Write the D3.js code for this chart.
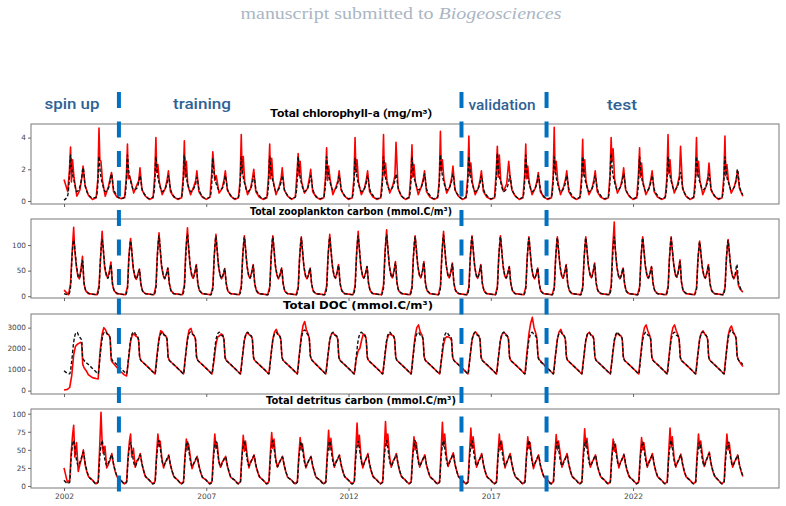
<!DOCTYPE html>
<html>
<head>
<meta charset="utf-8">
<script src="https://cdn.jsdelivr.net/npm/d3@7"></script>
<style>
  body { margin: 0; background: #fff; }
  svg { display: block; }
</style>
</head>
<body>
<svg id="chart" width="786" height="506"></svg>
<script>
// years covered by the run (last one stops in November)
const years = [2002, 2003, 2004, 2005, 2006, 2007, 2008, 2009, 2010, 2011, 2012, 2013,
  2014, 2015, 2016, 2017, 2018, 2019, 2020, 2021, 2022, 2023, 2024, 2025];

// boundaries between spin up / training / validation / test (decimal years)
const periodBreaks = [2003.93, 2015.97, 2018.96];
const periodLabels = ['spin up', 'training', 'validation', 'test'];
const xTicks = [2002, 2007, 2012, 2017, 2022];

// ---- chlorophyll-a, samples at these fractions of each year ----
const chlFrac = [0.00, 0.13, 0.19, 0.23, 0.26, 0.30, 0.35, 0.45, 0.56, 0.63, 0.67, 0.74, 0.86];
const chlModel = [
  [0.05, 0.35, 1.5, 2.9, 2.2, 1.7, 1.3, 0.6, 0.9, 1.6, 2.1, 1.0, 0.4],
  [0.2, 0.25, 1.1, 2.8, 2.1, 1.5, 1.1, 0.6, 0.8, 1.3, 1.7, 0.8, 0.35],
  [0.15, 0.25, 1.2, 2.9, 2.2, 1.6, 1.2, 0.7, 0.8, 1.2, 1.6, 0.8, 0.35],
  [0.15, 0.25, 1.1, 2.8, 2.1, 1.5, 1.1, 0.6, 0.8, 1.2, 1.6, 0.8, 0.3],
  [0.15, 0.25, 1.2, 2.9, 2.2, 1.5, 1.1, 0.6, 0.8, 1.1, 1.5, 0.8, 0.3],
  [0.15, 0.25, 1.0, 2.7, 2.0, 1.5, 1.1, 0.7, 0.8, 1.2, 1.6, 0.8, 0.35],
  [0.15, 0.25, 1.1, 2.8, 2.1, 1.5, 1.1, 0.6, 0.8, 1.2, 1.6, 0.8, 0.35],
  [0.15, 0.25, 1.1, 2.8, 2.2, 1.6, 1.2, 0.6, 0.8, 1.2, 1.6, 0.8, 0.35],
  [0.15, 0.25, 1.1, 2.8, 2.1, 1.5, 1.1, 0.6, 0.8, 1.2, 1.6, 0.8, 0.3],
  [0.15, 0.25, 1.1, 2.8, 2.1, 1.6, 1.2, 0.7, 0.8, 1.2, 1.6, 0.8, 0.35],
  [0.15, 0.25, 1.0, 2.7, 2.0, 1.5, 1.1, 0.6, 0.8, 1.2, 1.6, 0.8, 0.35],
  [0.15, 0.25, 1.1, 2.8, 2.1, 1.5, 1.1, 0.7, 0.9, 1.3, 1.7, 0.9, 0.35],
  [0.15, 0.25, 1.1, 2.8, 2.1, 1.5, 1.2, 0.7, 0.9, 1.3, 1.7, 0.8, 0.35],
  [0.15, 0.25, 1.2, 2.9, 2.2, 1.6, 1.2, 0.7, 0.9, 1.3, 1.7, 0.8, 0.35],
  [0.15, 0.25, 1.1, 2.8, 2.1, 1.5, 1.1, 0.6, 0.8, 1.2, 1.6, 0.8, 0.35],
  [0.15, 0.25, 1.3, 3.0, 2.2, 1.6, 1.2, 0.6, 0.8, 1.2, 1.6, 0.8, 0.35],
  [0.15, 0.25, 1.2, 2.9, 2.1, 1.5, 1.1, 0.6, 0.8, 1.2, 1.6, 0.8, 0.3],
  [0.15, 0.25, 1.1, 2.8, 2.1, 1.5, 1.1, 0.6, 0.8, 1.2, 1.6, 0.8, 0.35],
  [0.15, 0.25, 1.1, 2.8, 2.1, 1.5, 1.1, 0.6, 0.8, 1.2, 1.6, 0.8, 0.35],
  [0.15, 0.25, 1.3, 3.0, 2.2, 1.6, 1.2, 0.7, 0.9, 1.3, 1.7, 0.8, 0.35],
  [0.15, 0.25, 1.1, 2.8, 2.1, 1.5, 1.1, 0.6, 0.8, 1.2, 1.6, 0.8, 0.35],
  [0.15, 0.25, 1.1, 2.8, 2.1, 1.6, 1.2, 0.7, 0.9, 1.4, 1.8, 0.9, 0.35],
  [0.15, 0.25, 1.1, 2.8, 2.1, 1.5, 1.2, 0.7, 0.9, 1.3, 1.7, 0.8, 0.35],
  [0.15, 0.25, 1.1, 2.8, 2.1, 1.5, 1.2, 0.7, 0.9, 1.4, 2.0, 1.0, 0.4]
];
const chlObs = [
  [1.35, 0.6, 1.9, 3.4, 1.2, 2.6, 1.5, 0.3, 0.7, 1.5, 2.2, 1.0, 0.35],
  [0.1, 0.2, 1.4, 4.6, 2.6, 2.5, 1.3, 0.3, 0.9, 1.5, 1.8, 0.6, 0.25],
  [0.15, 0.2, 1.5, 3.6, 1.4, 1.6, 1.3, 0.5, 1.0, 1.3, 2.1, 0.7, 0.3],
  [0.1, 0.2, 1.6, 4.0, 1.8, 2.3, 1.2, 0.4, 0.8, 1.4, 1.9, 0.6, 0.25],
  [0.1, 0.2, 1.5, 3.8, 1.5, 2.5, 1.0, 0.4, 0.9, 1.3, 1.9, 0.6, 0.25],
  [0.1, 0.25, 1.7, 3.1, 2.4, 1.3, 1.6, 0.5, 0.8, 1.4, 1.9, 0.7, 0.3],
  [0.1, 0.2, 1.3, 4.2, 1.7, 2.8, 1.2, 0.4, 0.8, 1.5, 2.0, 0.6, 0.25],
  [0.1, 0.2, 1.6, 3.6, 1.4, 2.7, 1.3, 0.4, 0.9, 1.4, 2.1, 0.7, 0.3],
  [0.1, 0.25, 1.8, 3.0, 1.6, 2.5, 1.2, 0.5, 0.8, 1.5, 2.0, 0.6, 0.25],
  [0.1, 0.2, 1.5, 3.35, 1.3, 2.2, 1.4, 0.4, 0.9, 1.3, 1.9, 0.7, 0.3],
  [0.1, 0.2, 1.4, 4.0, 1.8, 2.6, 1.2, 0.4, 0.8, 1.4, 1.9, 0.6, 0.25],
  [0.1, 0.2, 1.5, 4.2, 1.6, 2.4, 1.3, 0.5, 1.0, 1.6, 3.7, 0.8, 0.3],
  [0.1, 0.2, 1.6, 3.55, 1.5, 2.3, 1.2, 0.4, 0.9, 1.4, 1.9, 0.6, 0.25],
  [0.1, 0.2, 1.3, 4.4, 1.9, 2.6, 1.4, 0.5, 0.9, 1.5, 2.2, 0.7, 0.3],
  [0.1, 0.2, 1.5, 4.1, 1.6, 2.4, 1.2, 0.4, 0.8, 1.4, 1.9, 0.6, 0.25],
  [0.1, 0.2, 1.8, 3.45, 1.5, 2.9, 1.3, 0.6, 1.1, 2.5, 1.7, 0.7, 0.3],
  [0.1, 0.2, 1.6, 3.6, 1.4, 2.2, 1.2, 0.4, 0.8, 1.3, 1.8, 0.6, 0.25],
  [0.1, 0.2, 1.4, 4.65, 1.8, 2.5, 1.3, 0.4, 0.9, 1.4, 1.9, 0.6, 0.25],
  [0.1, 0.2, 1.5, 3.9, 1.6, 2.6, 1.2, 0.4, 0.8, 1.4, 1.9, 0.6, 0.25],
  [0.1, 0.2, 1.6, 4.0, 2.5, 3.3, 1.4, 0.5, 0.9, 1.5, 2.1, 0.7, 0.3],
  [0.1, 0.2, 1.7, 3.35, 1.5, 2.4, 1.2, 0.4, 0.8, 1.4, 1.9, 0.6, 0.25],
  [0.1, 0.2, 1.5, 4.2, 1.7, 2.6, 1.3, 0.5, 1.0, 1.6, 3.45, 0.8, 0.3],
  [0.1, 0.2, 1.5, 4.0, 1.6, 2.5, 1.3, 0.4, 0.9, 1.5, 2.4, 0.7, 0.3],
  [0.1, 0.2, 1.5, 4.1, 1.6, 2.3, 1.3, 0.5, 0.9, 1.4, 1.9, 0.8, 0.3]
];

// ---- zooplankton carbon ----
const zooFrac = [0.00, 0.16, 0.23, 0.28, 0.34, 0.37, 0.43, 0.49, 0.54, 0.60, 0.65, 0.70, 0.76, 0.86];
const zooModel = [
  [5, 3, 18, 75, 110, 100, 65, 42, 36, 50, 70, 30, 12, 6],
  [4, 3, 15, 72, 111, 98, 62, 42, 35, 45, 62, 28, 12, 6],
  [4, 3, 14, 70, 108, 95, 60, 40, 34, 42, 52, 26, 11, 5],
  [4, 3, 15, 75, 118, 102, 62, 42, 35, 43, 55, 27, 11, 5],
  [4, 3, 16, 78, 122, 105, 64, 43, 36, 46, 60, 28, 12, 6],
  [4, 3, 15, 74, 117, 100, 62, 42, 35, 43, 54, 27, 11, 5],
  [4, 3, 15, 74, 116, 100, 62, 42, 36, 46, 60, 28, 12, 5],
  [4, 3, 15, 74, 116, 100, 62, 42, 35, 43, 55, 27, 11, 5],
  [4, 3, 15, 72, 114, 98, 61, 41, 35, 43, 55, 27, 11, 5],
  [4, 3, 15, 73, 115, 99, 62, 42, 36, 46, 60, 28, 12, 5],
  [4, 3, 16, 75, 118, 101, 62, 42, 36, 45, 58, 28, 12, 5],
  [4, 3, 16, 76, 120, 103, 64, 43, 37, 48, 65, 29, 12, 6],
  [4, 3, 15, 74, 116, 100, 63, 43, 37, 48, 66, 29, 12, 6],
  [4, 3, 16, 76, 120, 103, 64, 43, 37, 47, 63, 29, 12, 6],
  [4, 3, 15, 74, 116, 100, 62, 42, 36, 46, 60, 28, 12, 5],
  [4, 3, 15, 74, 116, 100, 62, 42, 36, 45, 57, 28, 12, 5],
  [4, 3, 15, 72, 114, 98, 61, 41, 35, 43, 55, 27, 11, 5],
  [4, 3, 15, 72, 114, 98, 62, 42, 36, 46, 60, 28, 12, 5],
  [4, 3, 15, 72, 114, 98, 62, 43, 37, 47, 63, 29, 12, 6],
  [4, 3, 15, 73, 116, 99, 61, 41, 35, 43, 55, 27, 11, 5],
  [4, 3, 15, 72, 114, 98, 62, 42, 36, 45, 57, 28, 12, 5],
  [4, 3, 15, 72, 114, 98, 63, 43, 38, 50, 68, 30, 12, 6],
  [4, 3, 14, 68, 106, 92, 60, 41, 36, 46, 60, 28, 12, 5],
  [4, 3, 14, 70, 109, 95, 60, 41, 36, 46, 62, 30, 18, 9]
];
const zooObs = [
  [12, 3, 25, 80, 135, 95, 60, 38, 34, 55, 78, 25, 11, 5],
  [4, 3, 20, 70, 127, 100, 55, 40, 38, 50, 67, 24, 11, 5],
  [4, 3, 18, 78, 113, 96, 55, 38, 33, 44, 53, 24, 10, 5],
  [4, 3, 20, 82, 124, 98, 58, 40, 34, 44, 55, 25, 11, 5],
  [4, 3, 22, 88, 134, 100, 60, 40, 35, 48, 62, 26, 11, 5],
  [4, 3, 18, 80, 121, 98, 58, 40, 34, 43, 54, 25, 10, 5],
  [4, 3, 20, 80, 118, 100, 60, 40, 35, 48, 62, 26, 11, 5],
  [4, 3, 18, 78, 118, 98, 58, 40, 34, 44, 55, 25, 10, 5],
  [4, 3, 18, 76, 116, 97, 58, 39, 34, 43, 55, 25, 10, 5],
  [4, 3, 20, 80, 121, 98, 60, 40, 35, 48, 62, 26, 11, 5],
  [4, 3, 20, 82, 127, 100, 60, 40, 35, 46, 58, 26, 11, 5],
  [4, 3, 22, 85, 130, 102, 62, 41, 36, 50, 68, 27, 11, 5],
  [4, 3, 18, 78, 118, 100, 62, 41, 36, 50, 68, 27, 11, 5],
  [4, 3, 20, 82, 127, 102, 62, 41, 36, 49, 65, 27, 11, 5],
  [4, 3, 18, 78, 118, 99, 60, 40, 35, 48, 62, 26, 11, 5],
  [4, 3, 18, 78, 118, 99, 60, 40, 35, 46, 58, 26, 11, 5],
  [4, 3, 18, 76, 116, 97, 58, 39, 34, 43, 55, 25, 10, 5],
  [4, 3, 18, 76, 116, 97, 60, 40, 35, 48, 62, 26, 11, 5],
  [4, 3, 18, 76, 116, 98, 60, 41, 36, 49, 65, 27, 11, 5],
  [4, 3, 20, 90, 145, 95, 58, 39, 34, 43, 55, 25, 10, 5],
  [4, 3, 18, 76, 116, 97, 60, 40, 35, 46, 58, 26, 11, 5],
  [4, 3, 18, 76, 116, 97, 62, 41, 37, 52, 71, 28, 11, 5],
  [4, 3, 16, 72, 108, 92, 58, 40, 35, 48, 62, 26, 11, 5],
  [4, 3, 16, 74, 111, 94, 58, 40, 34, 42, 50, 22, 14, 8]
];

// ---- dissolved organic carbon ----
const docFrac = [0.00, 0.12, 0.20, 0.27, 0.34, 0.40, 0.46, 0.52, 0.58, 0.62, 0.66, 0.70, 0.78, 0.86];
const docModel = [
  [950, 830, 800, 1400, 2300, 2700, 2780, 2600, 2500, 2400, 1550, 1450, 1340, 1240],
  [1060, 900, 800, 1650, 2450, 2750, 2800, 2700, 2650, 2500, 1600, 1450, 1340, 1240],
  [1060, 900, 800, 1600, 2400, 2720, 2800, 2680, 2600, 2450, 1600, 1450, 1340, 1240],
  [1060, 900, 800, 1600, 2400, 2700, 2780, 2650, 2600, 2450, 1600, 1450, 1340, 1240],
  [1060, 900, 800, 1600, 2400, 2720, 2800, 2680, 2600, 2450, 1600, 1450, 1340, 1240],
  [1060, 900, 800, 1600, 2400, 2700, 2780, 2650, 2600, 2450, 1600, 1450, 1340, 1240],
  [1060, 900, 800, 1600, 2400, 2700, 2780, 2650, 2600, 2450, 1600, 1450, 1340, 1240],
  [1060, 900, 800, 1600, 2400, 2700, 2780, 2650, 2600, 2450, 1600, 1450, 1340, 1240],
  [1060, 900, 800, 1650, 2450, 2800, 2890, 2750, 2650, 2500, 1650, 1480, 1360, 1250],
  [1060, 900, 800, 1600, 2400, 2700, 2780, 2650, 2600, 2450, 1600, 1450, 1340, 1240],
  [1060, 900, 800, 1600, 2400, 2700, 2780, 2650, 2600, 2450, 1600, 1450, 1340, 1240],
  [1060, 900, 800, 1600, 2400, 2700, 2780, 2650, 2600, 2450, 1600, 1450, 1340, 1240],
  [1060, 900, 800, 1600, 2400, 2700, 2780, 2650, 2600, 2450, 1600, 1450, 1340, 1240],
  [1060, 900, 800, 1600, 2400, 2700, 2780, 2650, 2600, 2450, 1600, 1450, 1340, 1240],
  [1060, 900, 800, 1600, 2400, 2700, 2780, 2650, 2600, 2450, 1600, 1450, 1340, 1240],
  [1060, 900, 800, 1600, 2400, 2700, 2780, 2650, 2600, 2450, 1600, 1450, 1340, 1240],
  [1060, 900, 800, 1600, 2400, 2700, 2780, 2650, 2600, 2450, 1600, 1450, 1340, 1240],
  [1060, 900, 800, 1600, 2400, 2720, 2800, 2680, 2600, 2450, 1600, 1450, 1340, 1240],
  [1060, 900, 800, 1600, 2400, 2700, 2780, 2650, 2600, 2450, 1600, 1450, 1340, 1240],
  [1060, 900, 800, 1600, 2400, 2700, 2780, 2650, 2600, 2450, 1600, 1450, 1340, 1240],
  [1060, 900, 800, 1600, 2400, 2700, 2780, 2650, 2600, 2450, 1600, 1450, 1340, 1240],
  [1060, 900, 800, 1600, 2400, 2700, 2780, 2650, 2600, 2450, 1600, 1450, 1340, 1240],
  [1060, 900, 800, 1600, 2400, 2720, 2800, 2680, 2600, 2450, 1600, 1450, 1340, 1240],
  [1060, 900, 800, 1650, 2450, 2800, 2890, 2750, 2650, 2500, 1650, 1480, 1360, 1250]
];
const docObs = [
  [30, 60, 150, 700, 1700, 2100, 2200, 2250, 2300, 2250, 1250, 1100, 950, 750],
  [620, 580, 560, 1900, 2700, 3000, 2900, 2700, 2650, 2500, 1450, 1350, 1230, 1100],
  [900, 750, 700, 1500, 2350, 2650, 2700, 2600, 2550, 2400, 1600, 1450, 1340, 1240],
  [1060, 900, 800, 1700, 2500, 2850, 2800, 2650, 2600, 2450, 1600, 1450, 1340, 1240],
  [1060, 900, 800, 1650, 2500, 2900, 2970, 2700, 2600, 2450, 1600, 1450, 1340, 1240],
  [1060, 900, 800, 1400, 2200, 2550, 2600, 2700, 2650, 2450, 1600, 1450, 1340, 1240],
  [1060, 900, 800, 1600, 2400, 2700, 2750, 2650, 2600, 2450, 1600, 1450, 1340, 1240],
  [1060, 900, 800, 1650, 2450, 2800, 2920, 2700, 2600, 2450, 1600, 1450, 1340, 1240],
  [1060, 900, 800, 1700, 2600, 3100, 3290, 2900, 2700, 2500, 1650, 1480, 1360, 1250],
  [1060, 900, 800, 1600, 2400, 2700, 2750, 2650, 2600, 2450, 1600, 1450, 1340, 1240],
  [1060, 900, 800, 1500, 1900, 2020, 2400, 2700, 2650, 2450, 1600, 1450, 1340, 1240],
  [1060, 900, 800, 1550, 2350, 2650, 2700, 2650, 2600, 2450, 1600, 1450, 1340, 1240],
  [1060, 900, 800, 1700, 2600, 3000, 3130, 2800, 2650, 2450, 1600, 1450, 1340, 1240],
  [1060, 900, 800, 1500, 2200, 2500, 2570, 2550, 2500, 2400, 1600, 1450, 1340, 1240],
  [1060, 900, 800, 1600, 2400, 2700, 2800, 2700, 2600, 2450, 1600, 1450, 1340, 1240],
  [1060, 900, 800, 1600, 2400, 2700, 2780, 2700, 2600, 2450, 1600, 1450, 1340, 1240],
  [1060, 900, 800, 1800, 2700, 3200, 3490, 3000, 2750, 2500, 1650, 1480, 1360, 1250],
  [1060, 900, 800, 1650, 2450, 2800, 2920, 2700, 2600, 2450, 1600, 1450, 1340, 1240],
  [1060, 900, 800, 1600, 2400, 2700, 2780, 2650, 2600, 2450, 1600, 1450, 1340, 1240],
  [1060, 900, 800, 1550, 2350, 2650, 2730, 2650, 2600, 2450, 1600, 1450, 1340, 1240],
  [1060, 900, 800, 1700, 2600, 3000, 3130, 2850, 2650, 2450, 1600, 1450, 1340, 1240],
  [1060, 900, 800, 1700, 2600, 3000, 3130, 2850, 2650, 2450, 1600, 1450, 1340, 1240],
  [1060, 900, 800, 1650, 2450, 2750, 2850, 2700, 2600, 2450, 1600, 1450, 1340, 1240],
  [1060, 900, 800, 1700, 2600, 2950, 3080, 2800, 2650, 2500, 1650, 1480, 1300, 1150]
];

// ---- detritus carbon ----
const detFrac = [0.00, 0.12, 0.20, 0.25, 0.30, 0.34, 0.38, 0.44, 0.50, 0.56, 0.62, 0.68, 0.74, 0.80, 0.86];
const detModel = [
  [8, 4, 5, 38, 56, 63, 54, 36, 28, 33, 40, 47, 33, 22, 14],
  [8, 3, 5, 36, 56, 63, 53, 36, 28, 32, 38, 43, 31, 21, 14],
  [8, 3, 5, 35, 54, 60, 51, 35, 27, 32, 38, 43, 31, 21, 14],
  [8, 3, 5, 36, 56, 63, 53, 36, 28, 32, 38, 42, 30, 21, 14],
  [8, 3, 5, 36, 55, 62, 52, 35, 27, 31, 37, 40, 29, 20, 13],
  [8, 3, 5, 36, 55, 62, 52, 35, 27, 31, 37, 40, 29, 20, 13],
  [8, 3, 5, 36, 56, 63, 53, 36, 28, 32, 38, 42, 30, 21, 14],
  [8, 3, 5, 36, 56, 63, 53, 36, 27, 31, 37, 40, 29, 20, 13],
  [8, 3, 5, 35, 54, 61, 52, 35, 27, 31, 37, 40, 29, 20, 13],
  [8, 3, 5, 36, 55, 62, 53, 36, 28, 32, 38, 42, 30, 21, 14],
  [8, 3, 5, 36, 55, 62, 53, 36, 28, 32, 38, 43, 31, 21, 14],
  [8, 3, 5, 36, 56, 63, 53, 36, 28, 32, 38, 43, 31, 21, 14],
  [8, 3, 5, 36, 56, 63, 53, 36, 28, 32, 38, 42, 30, 21, 14],
  [8, 3, 5, 36, 56, 63, 53, 36, 28, 33, 39, 44, 31, 21, 14],
  [8, 3, 5, 36, 56, 63, 53, 36, 28, 32, 38, 43, 31, 21, 14],
  [8, 3, 5, 36, 55, 62, 53, 36, 28, 32, 38, 43, 31, 21, 14],
  [8, 3, 5, 36, 56, 63, 53, 36, 28, 32, 38, 42, 30, 21, 14],
  [8, 3, 5, 35, 54, 61, 52, 36, 28, 32, 38, 43, 31, 21, 14],
  [8, 3, 5, 36, 56, 63, 53, 36, 28, 32, 38, 42, 30, 21, 14],
  [8, 3, 5, 35, 54, 61, 52, 36, 28, 32, 38, 43, 31, 21, 14],
  [8, 3, 5, 35, 54, 61, 52, 36, 28, 32, 38, 43, 31, 21, 14],
  [8, 3, 5, 36, 56, 63, 53, 36, 28, 32, 38, 43, 31, 21, 14],
  [8, 3, 5, 35, 54, 61, 52, 36, 28, 33, 40, 45, 32, 22, 15],
  [8, 3, 5, 35, 54, 61, 52, 36, 28, 32, 38, 42, 30, 21, 14]
];
const detObs = [
  [25, 5, 8, 45, 70, 84, 40, 60, 20, 30, 38, 50, 30, 20, 13],
  [8, 3, 6, 50, 102, 60, 45, 55, 25, 30, 36, 45, 30, 20, 13],
  [8, 3, 6, 40, 62, 72, 40, 52, 26, 35, 37, 45, 30, 21, 13],
  [8, 3, 6, 42, 72, 55, 62, 38, 25, 33, 36, 43, 29, 20, 13],
  [8, 3, 6, 40, 65, 50, 58, 40, 24, 31, 35, 41, 28, 19, 12],
  [8, 3, 6, 42, 72, 52, 60, 35, 26, 33, 36, 41, 28, 19, 12],
  [8, 3, 6, 40, 70, 48, 62, 42, 25, 34, 37, 43, 29, 20, 13],
  [8, 3, 6, 44, 74, 52, 65, 38, 26, 32, 36, 41, 28, 19, 12],
  [8, 3, 6, 40, 67, 50, 58, 40, 25, 32, 36, 41, 28, 19, 12],
  [8, 3, 6, 42, 77, 50, 66, 42, 26, 34, 37, 43, 29, 20, 13],
  [8, 3, 6, 45, 87, 55, 70, 40, 25, 33, 38, 45, 30, 20, 13],
  [8, 3, 6, 45, 89, 56, 72, 42, 26, 34, 38, 45, 30, 20, 13],
  [8, 3, 6, 40, 68, 50, 60, 40, 26, 33, 37, 43, 29, 20, 13],
  [8, 3, 6, 45, 88, 55, 72, 42, 27, 35, 39, 46, 30, 21, 13],
  [8, 3, 6, 44, 80, 52, 68, 45, 26, 34, 38, 45, 30, 20, 13],
  [8, 3, 6, 42, 72, 50, 62, 44, 25, 33, 38, 45, 30, 20, 13],
  [8, 3, 6, 40, 68, 52, 60, 40, 24, 32, 37, 43, 29, 20, 13],
  [8, 3, 6, 42, 71, 50, 62, 45, 26, 34, 38, 45, 30, 20, 13],
  [8, 3, 6, 44, 79, 54, 66, 42, 26, 33, 37, 43, 29, 20, 13],
  [8, 3, 6, 40, 65, 48, 58, 40, 25, 33, 37, 44, 29, 20, 13],
  [8, 3, 6, 40, 67, 50, 60, 42, 26, 34, 38, 45, 30, 20, 13],
  [8, 3, 6, 44, 80, 54, 68, 40, 26, 33, 37, 44, 30, 20, 13],
  [8, 3, 6, 42, 72, 52, 62, 42, 27, 35, 40, 47, 31, 21, 14],
  [8, 3, 6, 42, 72, 50, 60, 40, 26, 33, 37, 43, 29, 20, 13]
];

// ---------------------------------------------------------------
const svg = d3.select('#chart');
const x = d3.scaleLinear().domain([2000.84, 2027.13]).range([31, 779]);

// turn per-year rows into [decimal year, value] pairs
const toSeries = (rows, frac) =>
  rows.flatMap((row, i) => row.map((v, j) => [years[i] + frac[j], v]));

const panels = [
  { title: 'Total chlorophyll-a (mg/m³)', font: 'Roboto', width: 162, tx: 351, ty: 117,
    top: 124, bottom: 204, domain: [-0.19, 4.86], ticks: [0, 2, 4],
    frac: chlFrac, obs: chlObs, model: chlModel },
  { title: 'Total zooplankton carbon (mmol.C/m³)', font: 'DejaVu Sans', width: 202, tx: 351, ty: 215,
    top: 219, bottom: 298, domain: [-3.5, 151], ticks: [0, 50, 100],
    frac: zooFrac, obs: zooObs, model: zooModel },
  { title: 'Total DOC (mmol.C/m³)', font: 'DejaVu Sans', width: 150, tx: 358, ty: 309,
    top: 314, bottom: 394, domain: [-160, 3650], ticks: [0, 1000, 2000, 3000],
    frac: docFrac, obs: docObs, model: docModel },
  { title: 'Total detritus carbon (mmol.C/m³)', font: 'DejaVu Sans', width: 190, tx: 361, ty: 404,
    top: 409, bottom: 488, domain: [-2.8, 106.5], ticks: [0, 25, 50, 75, 100],
    frac: detFrac, obs: detObs, model: detModel }
];

// header
svg.append('text')
  .attr('x', 401).attr('y', 19)
  .attr('text-anchor', 'middle')
  .attr('font-family', 'Liberation Serif, DejaVu Serif, serif')
  .attr('font-size', 17)
  .attr('fill', '#aab6c3')
  .attr('textLength', 321)
  .attr('lengthAdjust', 'spacingAndGlyphs')
  .call(t => {
    t.append('tspan').text('manuscript submitted to ');
    t.append('tspan').attr('font-style', 'italic').text('Biogeosciences');
  });

panels.forEach((p, k) => {
  const y = d3.scaleLinear().domain(p.domain).range([p.bottom, p.top]);
  const g = svg.append('g');

  const clipId = 'clip' + k;
  svg.append('clipPath').attr('id', clipId)
    .append('rect')
    .attr('x', 31).attr('y', p.top)
    .attr('width', 748).attr('height', p.bottom - p.top);

  const line = d3.line().x(d => x(d[0])).y(d => y(d[1]));

  g.append('path')
    .datum(toSeries(p.obs, p.frac))
    .attr('clip-path', `url(#${clipId})`)
    .attr('fill', 'none')
    .attr('stroke', '#ff0000')
    .attr('stroke-width', 1.6)
    .attr('stroke-linejoin', 'round')
    .attr('d', line);

  g.append('path')
    .datum(toSeries(p.model, p.frac))
    .attr('clip-path', `url(#${clipId})`)
    .attr('fill', 'none')
    .attr('stroke', '#111')
    .attr('stroke-width', 1.4)
    .attr('stroke-dasharray', '3.5,2')
    .attr('d', line.curve(d3.curveMonotoneX));

  // frame
  g.append('rect')
    .attr('x', 31).attr('y', p.top)
    .attr('width', 748).attr('height', p.bottom - p.top)
    .attr('fill', 'none')
    .attr('stroke', '#858585')
    .attr('stroke-width', 1.1);

  const yAxis = g.append('g')
    .attr('transform', 'translate(31,0)')
    .call(d3.axisLeft(y).tickValues(p.ticks).tickSize(3).tickPadding(2).tickFormat(d3.format('d')));
  yAxis.select('.domain').remove();
  yAxis.selectAll('line').attr('stroke', '#666');
  yAxis.selectAll('text')
    .attr('font-family', 'DejaVu Sans, sans-serif')
    .attr('font-size', 7.3)
    .attr('fill', '#444');

  const xAxis = g.append('g')
    .attr('transform', `translate(0,${p.bottom})`)
    .call(d3.axisBottom(x).tickValues(xTicks).tickSize(3).tickPadding(2.5)
      .tickFormat(k === panels.length - 1 ? d3.format('d') : ''));
  xAxis.select('.domain').remove();
  xAxis.selectAll('line').attr('stroke', '#666');
  xAxis.selectAll('text')
    .attr('font-family', 'DejaVu Sans, sans-serif')
    .attr('font-size', 7.5)
    .attr('fill', '#444');

  // panel title
  svg.append('text')
    .attr('x', p.tx).attr('y', p.ty)
    .attr('text-anchor', 'middle')
    .attr('font-family', p.font)
    .attr('font-weight', 'bold')
    .attr('font-size', 10.5)
    .attr('fill', '#000')
    .attr('textLength', p.width)
    .attr('lengthAdjust', 'spacingAndGlyphs')
    .text(p.title);
});

// period separators
const sepTop = 92, sepBottom = 493;
svg.append('g')
  .selectAll('line')
  .data(periodBreaks)
  .join('line')
  .attr('x1', d => x(d)).attr('x2', d => x(d))
  .attr('y1', sepTop).attr('y2', sepBottom)
  .attr('stroke', '#0070c0')
  .attr('stroke-width', 4)
  .attr('stroke-dasharray', '16,13.5');

// period labels in the header band
const labelX = [72, 202, 502, 622];
const labelW = [55, 58, 67, 30];
svg.append('g')
  .selectAll('text')
  .data(periodLabels)
  .join('text')
  .attr('x', (d, i) => labelX[i])
  .attr('y', (d, i) => i < 2 ? 109 : 110)
  .attr('text-anchor', 'middle')
  .attr('font-family', 'Roboto, sans-serif')
  .attr('font-weight', 500)
  .attr('font-size', 15.5)
  .attr('fill', '#2f6294')
  .attr('textLength', (d, i) => labelW[i])
  .attr('lengthAdjust', 'spacingAndGlyphs')
  .text(d => d);
</script>
</body>
</html>
